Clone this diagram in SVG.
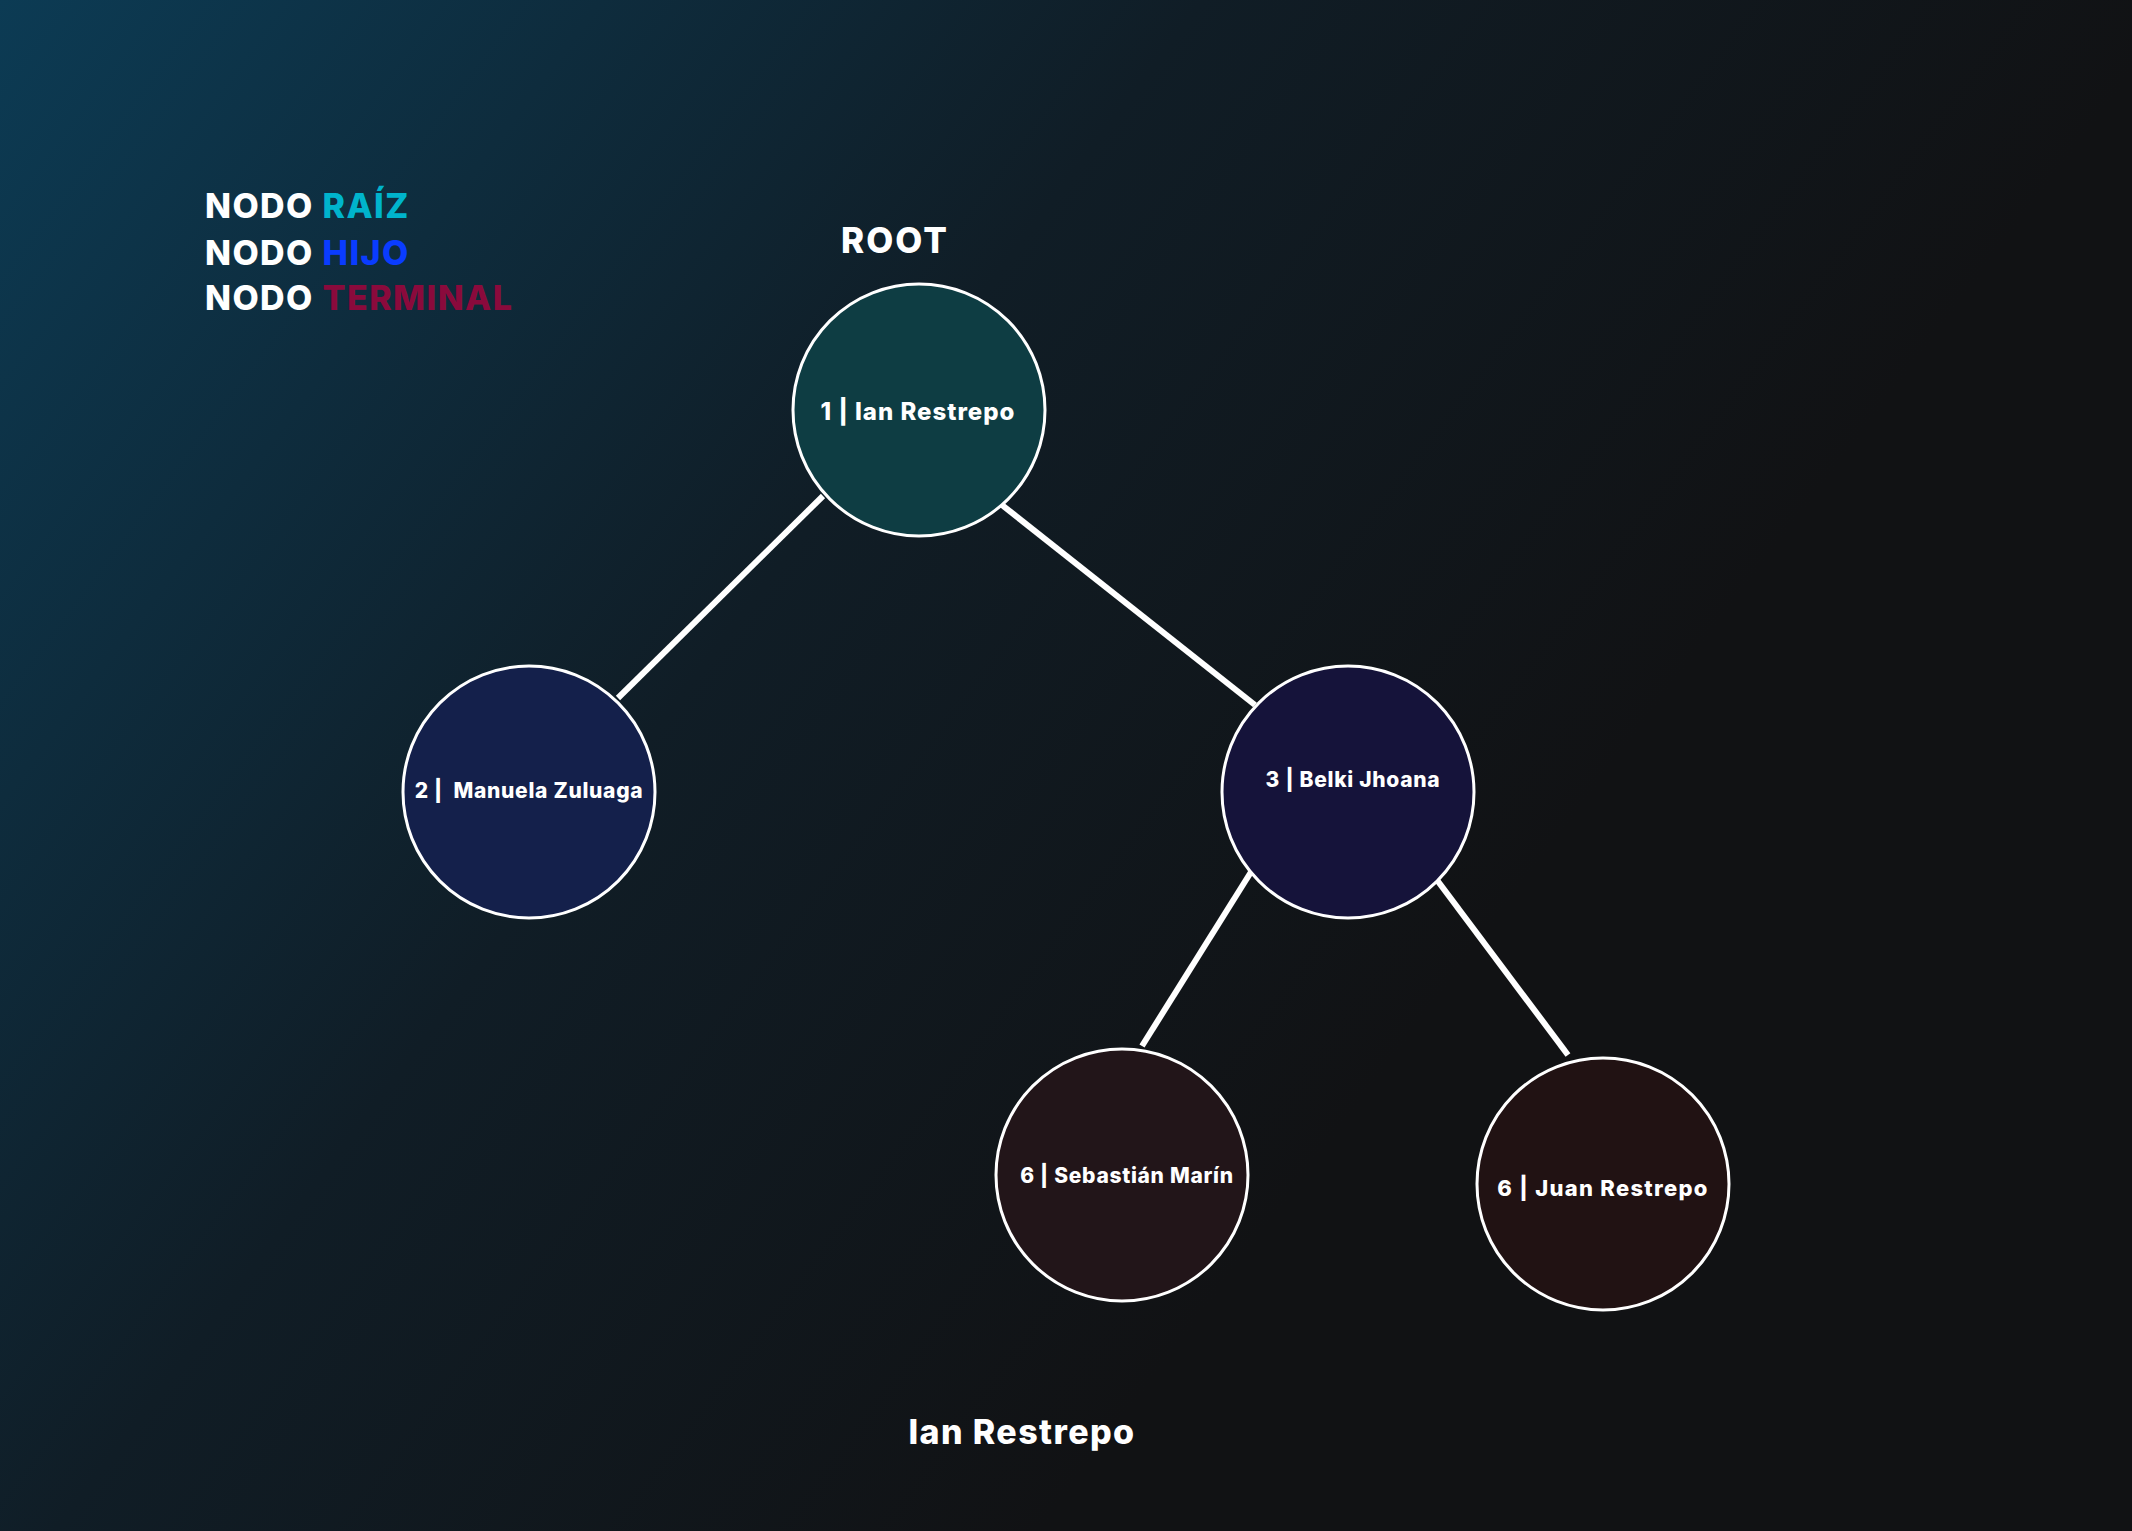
<svg xmlns="http://www.w3.org/2000/svg" width="2132" height="1531" viewBox="0 0 2132 1531">
<defs>
<linearGradient id="bg" gradientUnits="userSpaceOnUse" x1="0" y1="0" x2="1400" y2="1050">
<stop offset="0" stop-color="#0c3b54"/>
<stop offset="0.55" stop-color="#101d26"/>
<stop offset="1" stop-color="#111214"/>
</linearGradient>
<style>
.t{font-family:Inter,"Noto Sans","Liberation Sans",sans-serif;fill:#ffffff;font-weight:800;letter-spacing:1.4px}
.lbl{font-family:Inter,"Noto Sans","Liberation Sans",sans-serif;fill:#ffffff;font-weight:800;text-anchor:middle;letter-spacing:0.7px}
.node{stroke:#ffffff;stroke-width:3}
.edge{stroke:#ffffff;stroke-width:6;stroke-linecap:butt}
</style>
</defs>
<rect x="0" y="0" width="2132" height="1531" fill="url(#bg)"/>
<g id="legend">
<text class="t" x="205" y="218" font-size="34">NODO <tspan fill="#00b4cc">RAÍZ</tspan></text>
<text class="t" x="205" y="265" font-size="34">NODO <tspan fill="#0a3cff">HIJO</tspan></text>
<text class="t" x="205" y="310" font-size="34">NODO <tspan fill="#8a0a3c">TERMINAL</tspan></text>
</g>
<g id="connectors">
<line class="edge" x1="823" y1="496" x2="618" y2="698"/>
<line class="edge" x1="1002" y1="505" x2="1255" y2="705"/>
<line class="edge" x1="1251" y1="872" x2="1142" y2="1046"/>
<line class="edge" x1="1437" y1="880" x2="1568" y2="1055"/>
</g>
<text id="root-title" class="t" x="895" y="253" font-size="35" text-anchor="middle" style="letter-spacing:2px">ROOT</text>
<g id="node1">
<circle class="node" cx="919" cy="410" r="126" fill="#0e3d43"/>
<text class="lbl" x="918" y="420" font-size="24" style="letter-spacing:1px">1 | Ian Restrepo</text>
</g>
<g id="node2">
<circle class="node" cx="529" cy="792" r="126" fill="#14204b"/>
<text class="lbl" x="529" y="798" font-size="21" xml:space="preserve">2 |  Manuela Zuluaga</text>
</g>
<g id="node3">
<circle class="node" cx="1348" cy="792" r="126" fill="#15133a"/>
<text class="lbl" x="1353" y="787" font-size="21">3 | Belki Jhoana</text>
</g>
<g id="node6a">
<circle class="node" cx="1122" cy="1175" r="126" fill="#221519"/>
<text class="lbl" x="1127" y="1183" font-size="21">6 | Sebastián Marín</text>
</g>
<g id="node6b">
<circle class="node" cx="1603" cy="1184" r="126" fill="#211213"/>
<text class="lbl" x="1603" y="1196" font-size="22" style="letter-spacing:1.3px">6 | Juan Restrepo</text>
</g>
<text id="author" class="t" x="1022" y="1444" font-size="34" text-anchor="middle">Ian Restrepo</text>
</svg>
